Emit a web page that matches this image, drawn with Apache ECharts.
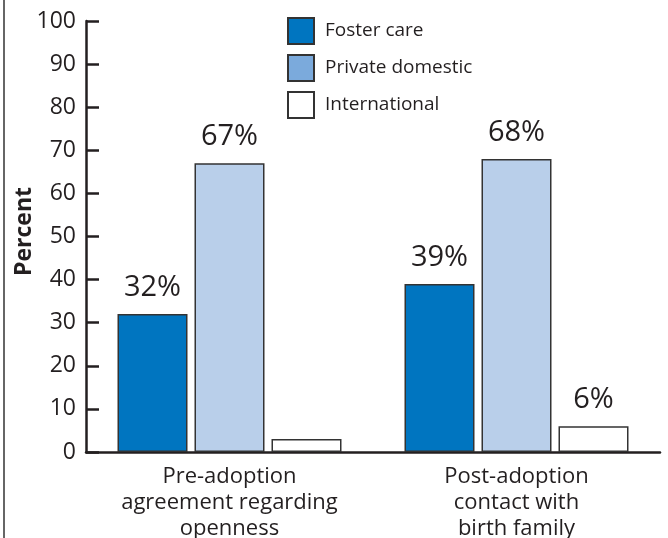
<!DOCTYPE html>
<html>
<head>
<meta charset="utf-8">
<script src="https://cdn.jsdelivr.net/npm/echarts@6/dist/echarts.min.js"></script>
<style>
  html, body { margin: 0; padding: 0; background: #fff; }
  #chart { width: 668px; height: 538px; }
</style>
</head>
<body>
<div id="chart"></div>
<script>
// Openness in adoption, by adoption type
const categories = ['Pre-adoption\nagreement regarding\nopenness', 'Post-adoption\ncontact with\nbirth family'];
const fosterCare = [32, 39];
const privateDomestic = [67, 68];
const international = [3, 6];
const yTicks = { min: 0, max: 100, interval: 10 };

const ink = '#231F20';
const font = 'Open Sans';

function valueLabels(values, minShown) {
  return values.map(v => ({ value: v, label: { show: v >= minShown } }));
}

const barBase = {
  type: 'bar',
  barWidth: 70,
  barGap: '10%',
  label: {
    show: true,
    position: 'top',
    distance: 12,
    formatter: p => p.value + '%',
    fontFamily: font,
    fontSize: 29,
    color: ink
  }
};

const chart = echarts.init(document.getElementById('chart'));
chart.setOption({
  animation: false,
  textStyle: { fontFamily: font },
  grid: { left: 86, right: 8, top: 21, bottom: 86, containLabel: false, outerBoundsMode: 'none' },
  legend: {
    orient: 'vertical',
    left: 287,
    top: 17,
    padding: 0,
    itemWidth: 26,
    itemHeight: 26,
    itemGap: 9,
    icon: 'rect',
    textStyle: { fontFamily: font, fontSize: 19, color: ink, padding: [0, 0, 0, 6] },
    data: [
      { name: 'Foster care' },
      { name: 'Private domestic', itemStyle: { color: '#7BAADC' } },
      { name: 'International' }
    ]
  },
  xAxis: {
    type: 'category',
    data: categories,
    axisTick: { show: false },
    axisLine: { lineStyle: { color: ink, width: 2.5 } },
    axisLabel: { fontFamily: font, fontSize: 22, lineHeight: 26, color: ink, margin: 12, interval: 0 }
  },
  yAxis: {
    type: 'value',
    min: yTicks.min,
    max: yTicks.max,
    interval: yTicks.interval,
    name: 'Percent',
    nameLocation: 'middle',
    nameGap: 50,
    nameMoveOverlap: false,
    nameTextStyle: { fontFamily: font, fontSize: 23, fontWeight: 'bold', color: ink, padding: [0, 0, 0, 10] },
    splitLine: { show: false },
    axisLine: { show: true, lineStyle: { color: ink, width: 2.5 } },
    axisTick: { show: true, inside: true, length: 13, lineStyle: { color: ink, width: 2.5 } },
    axisLabel: { fontFamily: font, fontSize: 23, color: ink, margin: 10 }
  },
  graphic: [{
    type: 'line',
    shape: { x1: 4, y1: 0, x2: 4, y2: 538 },
    style: { stroke: '#333', lineWidth: 1.5 }
  }],
  series: [
    Object.assign({}, barBase, {
      name: 'Foster care',
      data: valueLabels(fosterCare, 5),
      itemStyle: { color: '#0075C0', borderColor: '#333', borderWidth: 1.5 }
    }),
    Object.assign({}, barBase, {
      name: 'Private domestic',
      data: valueLabels(privateDomestic, 5),
      itemStyle: { color: '#B9CFEA', borderColor: '#333', borderWidth: 1.5 }
    }),
    Object.assign({}, barBase, {
      name: 'International',
      data: valueLabels(international, 5),
      itemStyle: { color: '#FFFFFF', borderColor: '#333', borderWidth: 1.5 }
    })
  ]
});
</script>
</body>
</html>
